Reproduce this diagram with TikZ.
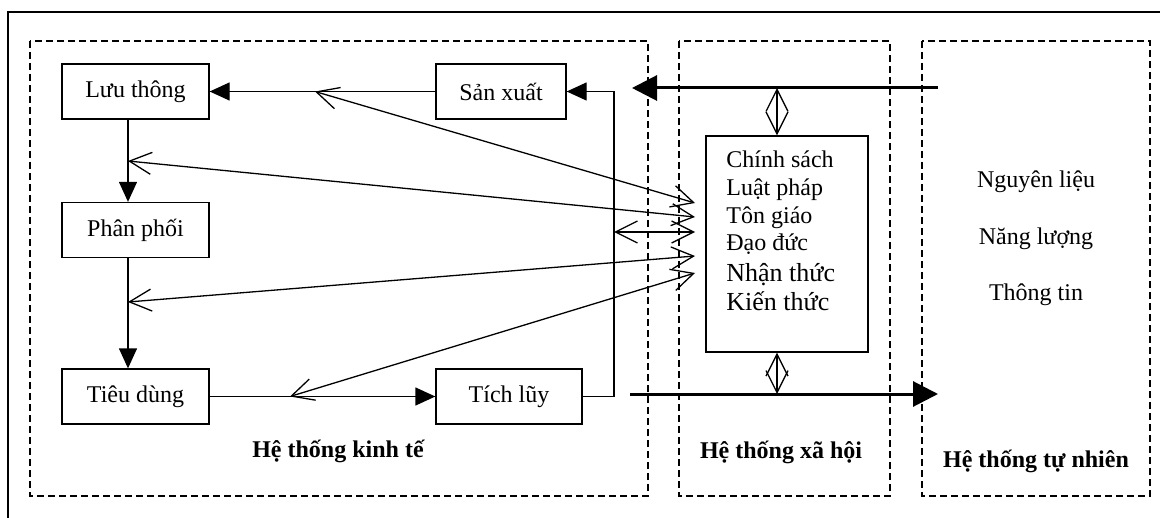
\documentclass[tikz,border=0pt]{standalone}
\usepackage{fontspec}
\setmainfont{Liberation Serif}
\usetikzlibrary{arrows.meta}
\begin{document}
\begin{tikzpicture}[x=0.5pt,y=-0.5pt,
  box/.style={draw, line width=0.65pt, minimum height=27.5pt, inner sep=0pt, font=\fontsize{12}{14}\selectfont},
  region/.style={draw, dash pattern=on 3.5pt off 2pt, line width=0.65pt},
  flow/.style={line width=0.65pt, -{Triangle[length=10pt,width=9pt]}},
  bigflow/.style={line width=1.5pt, -{Triangle[length=12.5pt,width=12.5pt]}},
  link/.style={line width=0.65pt, {Straight Barb[length=11pt,width=11pt]}-{Straight Barb[length=11pt,width=11pt]}},
  txt/.style={font=\fontsize{12}{14}\selectfont, inner sep=0pt, anchor=base},
  txtb/.style={font=\fontsize{13}{15}\selectfont, inner sep=0pt, anchor=base},
  lbl/.style={font=\fontsize{12}{14}\selectfont\bfseries, inner sep=0pt, anchor=base}]
\useasboundingbox (0,0) rectangle (1160,518);
% outer frame
\draw[line width=0.9pt] (1160,12) -- (8,12) -- (8,518);
% regions
\draw[region] (30,41) rectangle (648,496);
\draw[region] (679,41) rectangle (890,496);
\draw[region] (922,41) rectangle (1150,496);
% boxes
\node[box, minimum width=73.5pt] (luu) at (135.5,91.5) {Lưu thông};
\node[box, minimum width=73.5pt] (phan) at (135.5,230) {Phân phối};
\node[box, minimum width=73.5pt] (tieu) at (135.5,396.5) {Tiêu dùng};
\node[box, minimum width=65pt] (san) at (501,91.5) {Sản xuất};
\node[box, minimum width=73pt] (tich) at (509,396.5) {Tích lũy};
\node[draw, line width=0.65pt, minimum width=81pt, minimum height=108pt, inner sep=0pt] (xh) at (787,244) {};
% helper coordinates
\coordinate (vx) at (128,0);
\coordinate (ret) at (614,0);
\coordinate (lx) at (777,0);
\coordinate (inA) at (938,88);
\coordinate (inB) at (632,88);
\coordinate (outA) at (630,394);
\coordinate (outB) at (938,394);
% economic flows
\draw[flow] (san.west) -- (luu.east);
\draw[flow] (luu.south -| vx) -- (phan.north -| vx);
\draw[flow] (phan.south -| vx) -- (tieu.north -| vx);
\draw[flow] (tieu.east) -- (tich.west);
\draw[flow] (tich.east) -- (tich.east -| ret) -- (ret |- san.east) -- (san.east);
% thick flows with nature
\draw[bigflow] (inA) -- (inB);
\draw[bigflow] (outA) -- (outB);
\draw[link] (inA -| lx) -- (xh.north -| lx);
\draw[link] (xh.south -| lx) -- (outA -| lx);
% social links
\coordinate (p1) at (315,91.5);  \coordinate (q1) at (695,203);
\coordinate (p2) at (128,161);   \coordinate (q2) at (695,217);
\coordinate (p3) at (614,232);   \coordinate (q3) at (695,232);
\coordinate (p4) at (128,302);   \coordinate (q4) at (695,256);
\coordinate (p5) at (290,396.5); \coordinate (q5) at (695,273);
\draw[link] (p1) -- (q1);
\draw[link] (p2) -- (q2);
\draw[link] (p3) -- (q3);
\draw[link] (p4) -- (q4);
\draw[link] (p5) -- (q5);
% social box text
\node[txt, anchor=base west] (s1) at (726,168) {Chính sách};
\node[txt, anchor=base west] (s2) at (726,196) {Luật pháp};
\node[txt, anchor=base west] (s3) at (726,223) {Tôn giáo};
\node[txt, anchor=base west] (s4) at (726,250) {Đạo đức};
\node[txtb, anchor=base west] (s5) at (726,281) {Nhận thức};
\node[txtb, anchor=base west] (s6) at (726,310) {Kiến thức};
% nature text
\node[txt] (n1) at (1036,188) {Nguyên liệu};
\node[txt] (n2) at (1036,244) {Năng lượng};
\node[txt] (n3) at (1036,300) {Thông tin};
% labels
\node[lbl] (l1) at (338,457) {Hệ thống kinh tế};
\node[lbl] (l2) at (781,458) {Hệ thống xã hội};
\node[lbl] (l3) at (1036,467) {Hệ thống tự nhiên};
\end{tikzpicture}
\end{document}
